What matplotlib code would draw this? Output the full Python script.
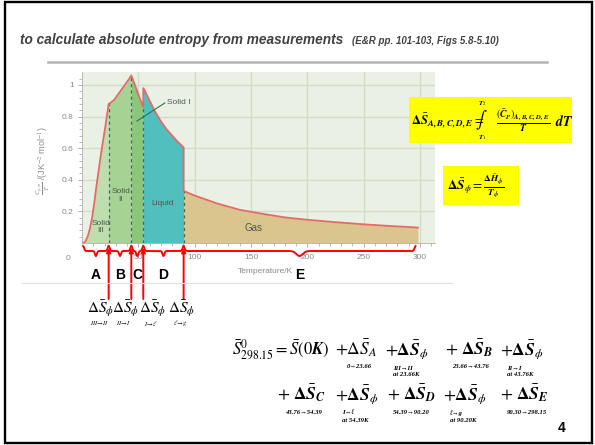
import matplotlib
matplotlib.use('Agg')
import matplotlib.pyplot as plt
import matplotlib.transforms as mtransforms
from matplotlib.patches import Rectangle
from matplotlib.lines import Line2D
import numpy as np

W, H = 595, 445
plt.rcParams['mathtext.fontset'] = 'stix'
plt.rcParams['font.family'] = ['Liberation Sans', 'DejaVu Sans']

# ---------------- data ----------------
T_solid3 = [1, 3, 5, 7, 9, 11, 13, 15, 17, 19, 21, 23.66]
C_solid3 = [0.0, 0.01, 0.04, 0.09, 0.16, 0.26, 0.37, 0.47, 0.57, 0.66, 0.75, 0.88]
T_solid2 = [23.66, 26, 29, 32, 35, 38, 41, 43.76]
C_solid2 = [0.88, 0.89, 0.91, 0.94, 0.97, 1.00, 1.03, 1.06]
T_solid1 = [43.76, 47, 50, 54.39]
C_solid1 = [1.06, 1.00, 0.94, 0.86]
T_liquid = [54.39, 56, 60, 65, 70, 75, 80, 85, 90.2]
C_liquid = [0.98, 0.96, 0.90, 0.83, 0.77, 0.72, 0.68, 0.64, 0.605]
T_gas = [90.2, 100, 120, 140, 160, 180, 200, 225, 250, 275, 298.15]
C_gas = [0.33, 0.30, 0.25, 0.21, 0.185, 0.162, 0.147, 0.132, 0.118, 0.107, 0.098]

transitions = [23.66, 43.76, 54.39, 90.20]
segment_letters = ['A', 'B', 'C', 'D', 'E']
phase_names = ['Solid\nIII', 'Solid\nII', 'Solid I', 'Liquid', 'Gas']
phase_colors = ['#bfdeae', '#a6d293', '#8ec57c', '#52bfbf', '#dac58f']
phi_subs = [r'$\mathit{III}\!\rightarrow\!\mathit{II}$', r'$\mathit{II}\!\rightarrow\!\mathit{I}$',
            r'$\mathit{I}\!\rightarrow\!\ell$', r'$\ell\!\rightarrow\!\mathit{g}$']
x_ticks = [50, 100, 150, 200, 250, 300]
y_ticks = [0.2, 0.4, 0.6, 0.8, 1.0]
y_ticklabels = ['0.2', '0.4', '0.6', '0.8', '1']

# ---------------- figure ----------------
fig = plt.figure(figsize=(W / 100, H / 100), dpi=100)
fig.patch.set_facecolor('white')


def P(x, y):
    return (x / W, 1 - y / H)


def ftext(x, y, s, **kw):
    return fig.text(x / W, 1 - y / H, s, **kw)


ax = fig.add_axes([82 / W, 1 - 243 / H, 353 / W, 171 / H])
ax.set_xlim(0, 313.3)
ax.set_ylim(0, 1.082)
ax.set_facecolor('#eaf1e4')
ax.grid(True, color='#d2dccb', lw=1.0)
ax.set_axisbelow(True)
for s in ['top', 'right']:
    ax.spines[s].set_visible(False)
for s in ['left', 'bottom']:
    ax.spines[s].set_color('#b0b0b0')
    ax.spines[s].set_linewidth(0.6)

segs = [(T_solid3, C_solid3), (T_solid2, C_solid2), (T_solid1, C_solid1),
        (T_liquid, C_liquid), (T_gas, C_gas)]
for (t, c), col in zip(segs, phase_colors):
    ax.fill_between(t, 0, c, color=col, lw=0, zorder=2)

T_all = np.concatenate([s[0] for s in segs])
C_all = np.concatenate([s[1] for s in segs])
ax.plot(T_all, C_all, color='#e36a6a', lw=1.3, zorder=4)

tops = [C_solid3[-1], C_solid2[-1], C_solid1[-1], C_gas[0]]
for t, top in zip(transitions, tops):
    ax.plot([t, t], [0, top], color='#3d6e50', lw=0.9, ls=(0, (2.5, 2.5)), zorder=3)

ax.set_xticks(x_ticks)
ax.set_xticks(np.arange(10, 311, 10), minor=True)
ax.set_yticks(y_ticks)
ax.set_yticklabels(y_ticklabels)
ax.set_yticks(np.arange(0.04, 1.08, 0.04), minor=True)
ax.tick_params(axis='both', which='major', labelsize=6, labelcolor='#8a8a8a', color='#a0a0a0',
               length=3, width=0.6)
ax.tick_params(axis='both', which='minor', color='#a0a0a0', length=2, width=0.5)
ax.tick_params(axis='x', pad=5)
ax.tick_params(axis='y', pad=3)

# phase labels
lab_kw = dict(fontsize=6, color='#4d5a4d', ha='center', va='center', zorder=5)
ax.text(16.5, 0.10, phase_names[0], linespacing=1.0, **lab_kw)
ax.text(34.5, 0.30, phase_names[1], linespacing=1.3, **lab_kw)
ax.text(75.5, 0.89, phase_names[2], fontsize=6, color='#4d5a4d', ha='left', va='center', zorder=5)
ax.plot([73.5, 48.8], [0.886, 0.772], color='#3d6e50', lw=0.8, zorder=5)
ax.text(72, 0.25, phase_names[3], **lab_kw)
ax.text(152, 0.097, phase_names[4], **dict(lab_kw, fontsize=7))

trans = mtransforms.blended_transform_factory(ax.transData, ax.transAxes)


def py(ypx):
    return (243 - ypx) / 171


ax.text(162.4, py(271.7), 'Temperature/K', transform=trans, fontsize=6, color='#8a8a8a',
        ha='center', va='center')
ftext(68, 258, '0', fontsize=6, color='#8a8a8a', ha='center', va='center')
ftext(43, 161, r'$\frac{C_{p,m}}{T}$ /(JK$^{-2}$ mol$^{-1}$)', fontsize=6.5, color='#8a8a8a',
      rotation=90, ha='center', va='center')

# ---------------- red brace and arrows ----------------
bounds = [1] + transitions + [296]
y0 = py(251)
for i, (a, b) in enumerate(zip(bounds[:-1], bounds[1:])):
    xs = np.linspace(a, b, 200)
    mid = (a + b) / 2
    w = 1.2 if i < 4 else 4.0
    y = (y0 + (py(256) - y0) * np.exp(-((xs - mid) / w) ** 2)
         + (py(246) - y0) * (np.exp(-((xs - a) / 1.2) ** 2) + np.exp(-((xs - b) / 1.2) ** 2)))
    ax.plot(xs, y, color='#ff0000', lw=1.4, transform=trans, clip_on=False)
    ax.text(mid, py(275), segment_letters[i], transform=trans, ha='center', va='center',
            fontsize=10, fontweight='bold', color='black')

for t in transitions:
    ax.annotate('', xy=(t, py(248)), xycoords=trans, xytext=(t, py(299)), textcoords=trans,
                arrowprops=dict(arrowstyle='-|>', color='#ff0000', lw=1.4, mutation_scale=6,
                                shrinkA=0, shrinkB=0))

phi_label_T = [16.6, 38.5, 62.5, 88.4]
for t, sub in zip(phi_label_T, phi_subs):
    ax.text(t, py(309), r'$\Delta\bar{S}_{\phi}$', transform=trans, ha='center', va='center',
            fontsize=11, color='black')
    ax.text(t - 1.5, py(323), sub, transform=trans, ha='center', va='center', fontsize=4.5,
            color='black')

# ---------------- slide decorations ----------------
fig.add_artist(Rectangle(P(5, 443), 587 / W, 441 / H, transform=fig.transFigure,
                         fill=False, ec='black', lw=1.7))
fig.add_artist(Line2D([48 / W, 547 / W], [1 - 61.5 / H] * 2, transform=fig.transFigure,
                      color='#b3b3b3', lw=1.8))
fig.add_artist(Line2D([22 / W, 453 / W], [1 - 282.5 / H] * 2, transform=fig.transFigure,
                      color='#e2e2e2', lw=0.8))
fig.add_artist(Rectangle(P(409, 143), 163 / W, 46 / H, transform=fig.transFigure,
                         fc='#ffff00', ec='none'))
fig.add_artist(Rectangle(P(443, 205), 76 / W, 39 / H, transform=fig.transFigure,
                         fc='#ffff00', ec='none'))

ftext(20, 44, 'to calculate absolute entropy from measurements', fontsize=9.8, fontweight='bold',
      style='italic', color='#404040', ha='left', va='baseline')
ftext(352, 44, '(E&R pp. 101-103, Figs 5.8-5.10)', fontsize=7, fontweight='bold',
      style='italic', color='#404040', ha='left', va='baseline')

# formula box 1 (split so that the integral sign and its limits sit like the original)
ftext(411, 121, r'$\mathbf{\Delta}\bar{\mathbfit{S}}_{\mathbfit{A,B,C,D,E}}=$',
      fontsize=9.2, ha='left', va='center', color='black')
ftext(481, 120.5, r'$\int$', fontsize=12, ha='center', va='center', color='black')
ftext(482, 103.5, r'$\mathbfit{T}_{2}$', fontsize=5, ha='center', va='center')
ftext(482, 137.5, r'$\mathbfit{T}_{1}$', fontsize=5, ha='center', va='center')
ftext(523, 121,
      r'$\frac{\left(\bar{\mathbfit{C}}_{\mathbfit{P}}\right)_{\mathbfit{A,B,C,D,E}}}{\mathbfit{T}}$',
      fontsize=10, ha='center', va='center', color='black')
ftext(555, 121.5, r'$\mathbfit{dT}$', fontsize=10, ha='left', va='center')

ftext(476, 186,
      r'$\mathbf{\Delta}\bar{\mathbfit{S}}_{\phi}=\frac{\mathbf{\Delta}\bar{\mathbfit{H}}_{\phi}}{\mathbfit{T}_{\phi}}$',
      fontsize=9.5, ha='center', va='center', color='black')

# ---------------- bottom equation ----------------
ftext(231.7, 355, r'$\bar{S}^{0}_{298.15}=\bar{S}(0\mathbfit{K})$', fontsize=12, ha='left',
      va='baseline')
terms = [
    (335, 355, r'$+\Delta\bar{S}_{A}$'),
    (385, 355, r'$+\mathbf{\Delta}\bar{\mathbfit{S}}_{\phi}$'),
    (445, 355, r'$+\ \mathbf{\Delta}\bar{\mathbfit{S}}_{\mathbfit{B}}$'),
    (500, 355, r'$+\mathbf{\Delta}\bar{\mathbfit{S}}_{\phi}$'),
    (277, 400, r'$+\ \mathbf{\Delta}\bar{\mathbfit{S}}_{\mathbfit{C}}$'),
    (335, 400, r'$+\mathbf{\Delta}\bar{\mathbfit{S}}_{\phi}$'),
    (387, 400, r'$+\ \mathbf{\Delta}\bar{\mathbfit{S}}_{\mathbfit{D}}$'),
    (443, 400, r'$+\mathbf{\Delta}\bar{\mathbfit{S}}_{\phi}$'),
    (500, 400, r'$+\ \mathbf{\Delta}\bar{\mathbfit{S}}_{\mathbfit{E}}$'),
]
for x, y, s in terms:
    ftext(x, y, s, fontsize=12.5, ha='left', va='baseline')

sub_kw = dict(fontsize=4.8, fontweight='bold', style='italic',
              family=['Liberation Serif', 'DejaVu Serif'], ha='left', va='center')
subs = [
    (347, 367, '0\u219223.66'), (393, 368, 'III\u2192II'), (393, 375, 'at 23.66K'),
    (452, 367, '23.66\u219243.76'), (507, 368, 'II\u2192I'), (507, 375, 'at 43.76K'),
    (285, 412, '43.76\u219254.39'), (342, 413, 'I\u2192\u2113'), (342, 420, 'at 54.39K'),
    (393, 412, '54.39\u219290.20'), (450, 413, '\u2113\u2192g'), (450, 420, 'at 90.20K'),
    (507, 412, '90.30\u2192298.15'),
]
for x, y, s in subs:
    ftext(x, y, s, **sub_kw)

ftext(562, 428, '4', fontsize=10, fontweight='bold', ha='center', va='center')

fig.savefig('out.png', dpi=100)
